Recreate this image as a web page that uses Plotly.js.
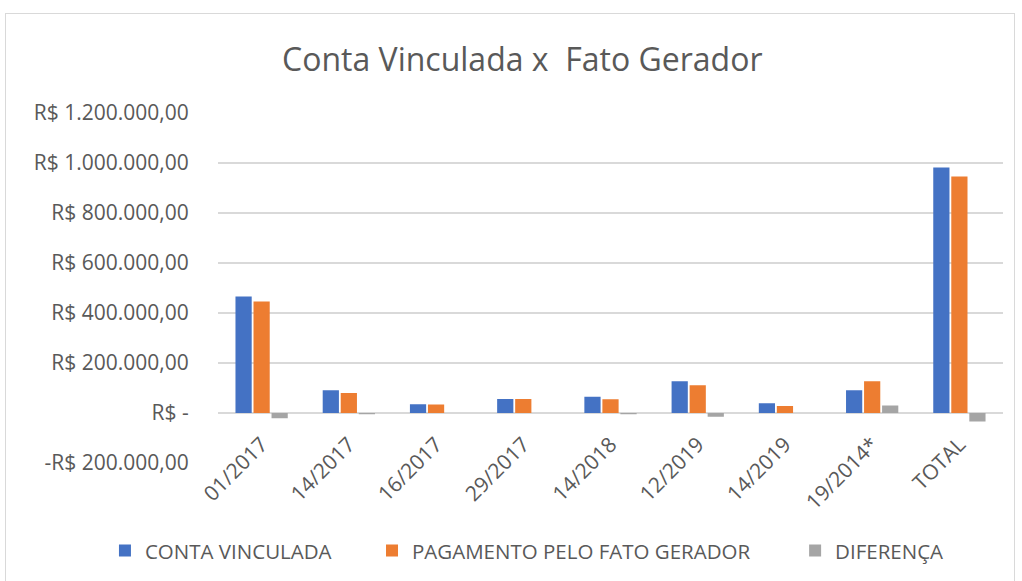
<!DOCTYPE html>
<html>
<head>
<meta charset="utf-8">
<script src="https://cdn.plot.ly/plotly-3.0.1.min.js"></script>
<style>
  html, body { margin:0; padding:0; background:#ffffff; }
  #frame { position:absolute; left:5px; top:13px; width:1010px; height:580px; border:1px solid #d9d9d9; box-sizing:border-box; }
  #chart { position:absolute; left:0; top:0; width:1022px; height:581px; }
</style>
</head>
<body>
<div id="frame"></div>
<div id="chart"></div>
<script>
const categories = ["01/2017","14/2017","16/2017","29/2017","14/2018","12/2019","14/2019","19/2014*","TOTAL"];
const contaVinculada = [466000, 91000, 35000, 56000, 65000, 127000, 39000, 91000, 982000];
const pagamentoFatoGerador = [446000, 80000, 34000, 56000, 55000, 111000, 28000, 127000, 946000];
const diferenca = [-21000, -5000, 0, 0, -5000, -15000, 0, 30000, -34000];
const yTickVals = [-200000, 0, 200000, 400000, 600000, 800000, 1000000, 1200000];
const yTickText = ["-R$ 200.000,00","R$ -","R$ 200.000,00","R$ 400.000,00","R$ 600.000,00","R$ 800.000,00","R$ 1.000.000,00","R$ 1.200.000,00"];
const seriesNames = ["CONTA VINCULADA","PAGAMENTO PELO FATO GERADOR","DIFERENÇA"];

const FONT = "'Open Sans', 'Noto Sans', sans-serif";
const TXT = "#595959";
const colors = ["#4472C4","#ED7D31","#A5A5A5"];
const vals = [contaVinculada, pagamentoFatoGerador, diferenca];
const legendIds = ["legend","legend2","legend3"];
const legendX = [0.1027, 0.364, 0.778];

const data = vals.map((v,i)=>({
  type:"bar", x:categories, y:v, name:seriesNames[i],
  marker:{color:colors[i]}, hoverinfo:"x+y", legend:legendIds[i]
}));

const layout = {
  width:1022, height:581,
  paper_bgcolor:"rgba(0,0,0,0)", plot_bgcolor:"rgba(0,0,0,0)",
  margin:{l:218, r:19, t:113, b:118},
  barmode:"group", bargap:0.38, bargroupgap:0.1,
  title:{text:"Conta Vinculada x  Fato Gerador", font:{family:FONT, size:32, color:TXT}, x:0.511, xanchor:"center", y:0.897, yanchor:"middle"},
  font:{family:FONT, color:TXT},
  xaxis:{
    type:"category", anchor:"free", position:1/7, automargin:false,
    showgrid:false, showline:false, zeroline:false,
    tickangle:-45, tickfont:{family:FONT, size:21, color:TXT},
    ticks:"outside", ticklen:10, tickcolor:"rgba(0,0,0,0)"
  },
  yaxis:{
    range:[-200000,1200000], domain:[0,1], automargin:false,
    tickvals:yTickVals, ticktext:yTickText,
    showgrid:true, gridcolor:"#d9d9d9", gridwidth:1.3,
    zeroline:true, zerolinecolor:"#d9d9d9", zerolinewidth:1.5,
    showline:false,
    tickfont:{family:FONT, size:21, color:TXT},
    ticks:"outside", ticklen:24, tickcolor:"rgba(0,0,0,0)"
  },
  showlegend:true
};
legendIds.forEach((id,i)=>{
  layout[id] = {orientation:"h", x:legendX[i], xref:"container", xanchor:"left", y:0.052, yref:"container", yanchor:"middle",
    font:{family:FONT, size:20.5, color:TXT}, itemwidth:30, bgcolor:"rgba(0,0,0,0)"};
});

Plotly.newPlot("chart", data, layout, {displayModeBar:false, staticPlot:true});
</script>
</body>
</html>
